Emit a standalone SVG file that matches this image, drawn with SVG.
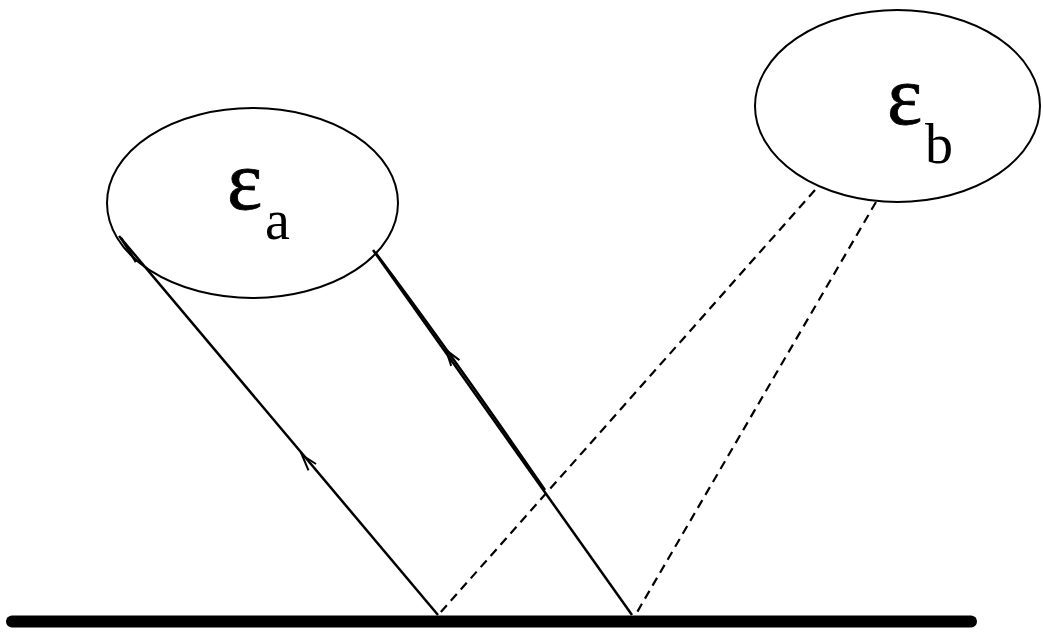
<svg xmlns="http://www.w3.org/2000/svg" width="1044" height="633" viewBox="0 0 1044 633">
<style>
.node{fill:none;stroke:#000;stroke-width:2}
.ray{fill:none;stroke:#000;stroke-width:2.5;stroke-linecap:butt}
.dash{fill:none;stroke:#000;stroke-width:2.2;stroke-dasharray:9 6}
.head{fill:none;stroke:#000;stroke-width:2;stroke-linejoin:miter}
.big{font-family:"Liberation Serif","DejaVu Serif",serif;font-size:84px;fill:#000;stroke:#000;stroke-width:0.8}
.sub{font-family:"Liberation Serif","DejaVu Serif",serif;font-size:56px;fill:#000}
</style>
<rect width="1044" height="633" fill="#fff"/>
<g id="ground">
<line x1="12" y1="621.5" x2="971" y2="621.5" stroke="#000" stroke-width="12" stroke-linecap="round"/>
</g>
<g id="connectors">
<line class="ray" x1="119" y1="236" x2="438" y2="615"/>
<line class="ray" x1="121" y1="238" x2="136" y2="262" stroke-width="1.5"/>
<polyline class="head" points="316,464 302,455 308.5,470.4"/>
<line class="ray" x1="373" y1="250" x2="632" y2="615"/>
<path class="ray" d="M375,252 Q450,352 545,490" stroke-width="1.5"/>
<polyline class="head" points="459.4,360.1 446,350 451.2,365.9"/>
<line class="dash" x1="815" y1="190" x2="440" y2="613"/>
<line class="dash" x1="876" y1="202" x2="636" y2="614"/>
</g>
<g id="node-a">
<ellipse class="node" cx="252.5" cy="203" rx="145.5" ry="95"/>
<text class="big" x="227" y="209">ε</text>
<text class="sub" x="265" y="239">a</text>
</g>
<g id="node-b">
<ellipse class="node" cx="897.5" cy="106" rx="142.5" ry="96"/>
<text class="big" x="887" y="124">ε</text>
<text class="sub" x="925" y="163">b</text>
</g>
</svg>
